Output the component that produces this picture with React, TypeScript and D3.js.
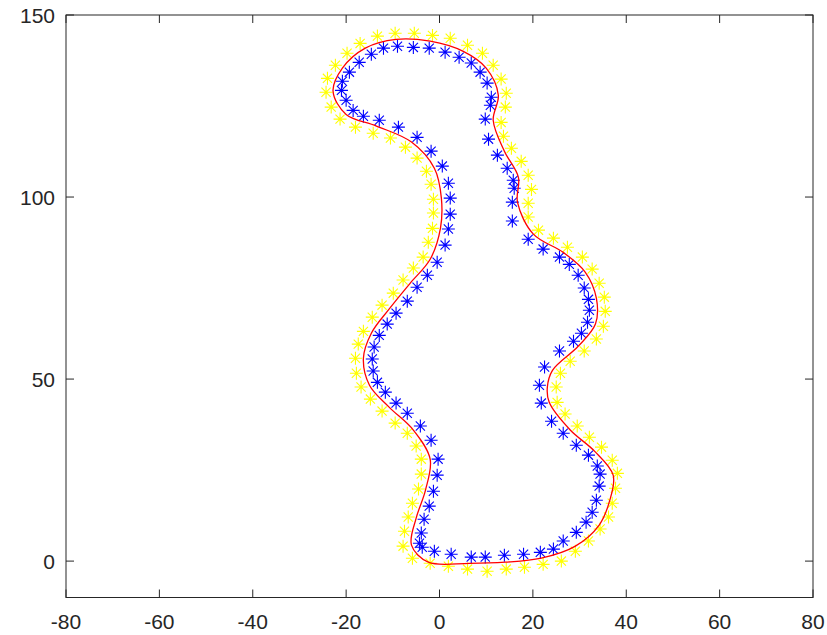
import React from 'react';
import * as d3 from 'd3';

// inner offset points (blue *)
const innerX = [
  -21.0, -20.8, -19.3, -17.2, -14.6, -12.0, -9.0, -5.6, -2.2, 1.2, 4.2, 6.8, 8.7, 10.2, 11.1, 10.9,
  9.8, 10.5, 12.4, 14.5, 15.8, 16.0, 15.6, 15.6, 19.0, 22.2, 25.7, 27.8, 29.7, 31.0, 31.9, 32.1,
  31.7, 30.4, 28.7, 25.7, 22.5, 21.4, 21.8, 24.0, 26.5, 29.3, 31.9, 33.8, 34.4, 34.2, 33.6, 32.7,
  31.4, 29.3, 26.5, 24.4, 21.6, 18.0, 13.9, 9.8, 6.8, 2.5, -1.1, -3.7, -4.3, -3.9, -3.3, -2.2,
  -1.3, -0.5, -0.3, -1.8, -4.1, -6.9, -9.3, -11.6, -13.3, -14.2, -14.4, -14.0, -12.9, -11.2, -9.3, -6.9,
  -4.8, -2.6, -0.5, 1.2, 1.9, 2.3, 2.3, 1.9, 0.6, -1.8, -4.8, -8.8, -12.9, -16.3, -18.5, -20.0,
];
const innerY = [
  129.3, 131.8, 134.3, 137.0, 139.2, 140.9, 141.4, 141.1, 140.9, 139.8, 138.4, 136.8, 134.3, 131.3, 127.4, 125.2,
  121.4, 115.9, 111.5, 107.9, 104.6, 102.4, 98.6, 93.4, 88.4, 85.7, 83.5, 81.5, 78.5, 75.0, 71.9, 68.9,
  65.6, 62.6, 60.4, 57.7, 53.3, 48.3, 43.4, 38.4, 35.1, 31.8, 29.1, 26.1, 23.9, 20.6, 16.7, 13.4,
  10.7, 7.9, 5.5, 3.3, 2.4, 1.9, 1.6, 1.1, 1.1, 1.9, 2.7, 3.8, 4.9, 7.7, 11.5, 15.1,
  19.2, 23.6, 28.0, 33.2, 37.1, 40.6, 43.4, 46.4, 49.1, 52.2, 55.5, 58.8, 62.0, 65.1, 68.1, 71.4,
  75.2, 78.5, 82.1, 86.8, 91.2, 95.3, 99.7, 103.8, 108.5, 112.6, 116.4, 119.2, 121.1, 122.2, 123.8, 126.6,
];

// outer offset points (yellow *)
const outerX = [
  -24.3, -24.0, -22.3, -19.8, -17.0, -13.3, -9.5, -5.4, -1.5, 2.3, 6.0, 9.2, 11.5, 13.2, 14.3, 14.1,
  13.2, 13.7, 15.4, 17.5, 19.0, 19.7, 19.0, 19.0, 21.2, 24.4, 27.4, 30.6, 32.7, 34.2, 35.3, 35.5,
  35.1, 33.6, 31.0, 28.0, 25.9, 25.0, 25.2, 26.9, 29.5, 32.1, 34.7, 37.0, 38.1, 37.7, 37.0, 36.2,
  34.4, 31.9, 29.1, 26.1, 22.2, 18.2, 14.3, 10.2, 6.0, 1.9, -2.0, -5.8, -7.8, -7.5, -6.7, -5.8,
  -4.5, -3.9, -3.9, -5.0, -6.9, -9.5, -12.3, -14.8, -16.8, -17.8, -18.0, -17.4, -16.3, -14.4, -12.3, -9.9,
  -7.8, -5.6, -3.5, -2.4, -1.5, -1.3, -1.3, -1.8, -2.8, -4.8, -7.3, -10.5, -14.2, -18.0, -21.3, -23.2,
];
const outerY = [
  128.8, 132.6, 136.2, 139.5, 142.2, 144.2, 145.0, 145.0, 144.4, 143.6, 141.7, 139.5, 136.2, 132.4, 128.5, 124.7,
  120.5, 116.7, 113.4, 109.8, 106.0, 102.1, 98.3, 94.5, 90.9, 88.7, 86.2, 83.5, 80.2, 76.3, 72.5, 68.6,
  64.5, 61.0, 57.7, 54.9, 51.6, 47.8, 43.6, 40.4, 37.1, 34.0, 31.3, 27.7, 24.1, 20.0, 15.9, 12.1,
  8.8, 5.5, 2.7, 0.0, -0.9, -1.7, -2.2, -2.8, -2.2, -1.4, -0.6, 0.8, 4.1, 8.2, 12.1, 15.9,
  19.8, 23.9, 28.0, 31.6, 35.1, 37.9, 41.2, 44.5, 47.8, 51.6, 55.7, 59.6, 63.1, 67.0, 70.3, 73.6,
  77.2, 80.5, 83.5, 87.6, 91.4, 95.6, 99.4, 103.5, 107.1, 110.7, 113.7, 116.2, 117.5, 119.2, 121.4, 124.7,
];

// centre curve (red)
const curveX = [
  -22.8, -20.8, -15.9, -9.3, -2.0, 5.1, 10.0, 12.6, 11.5, 13.9, 16.9, 16.7, 20.1, 26.5, 31.2, 33.6,
  33.4, 29.7, 24.2, 23.1, 23.5, 28.0, 33.2, 37.2, 36.4, 34.2, 29.1, 21.8, 14.1, 6.4, -2.4, -6.0,
  -5.0, -3.0, -2.0, -5.6, -10.8, -15.0, -16.3, -14.6, -10.8, -6.3, -2.0, 0.2, 0.4, -1.1, -6.0, -13.5, -20.0,
];
const curveY = [
  129.1, 135.4, 140.9, 143.3, 142.8, 140.0, 135.4, 128.0, 121.1, 112.6, 105.4, 98.6, 89.8, 84.8, 79.4, 72.2,
  65.1, 59.0, 52.4, 47.8, 43.6, 36.0, 30.2, 23.6, 16.4, 9.9, 4.1, 0.8, -0.3, -0.6, -0.3, 4.4,
  11.8, 19.5, 28.0, 36.0, 42.3, 48.3, 55.7, 62.6, 69.2, 76.3, 82.9, 91.4, 99.7, 107.9, 115.1, 119.5, 122.7,
];

const xTicks = [-80, -60, -40, -20, 0, 20, 40, 60, 80];
const yTicks = [0, 50, 100, 150];

const W = 827;
const H = 635;
const left = 66;
const right = 813;
const top = 15;
const bottom = 597.5;

const star = (r: number) => {
  const d = r * 0.7071;
  return `M${-r},0L${r},0M0,${-r}L0,${r}M${-d},${-d}L${d},${d}M${-d},${d}L${d},${-d}`;
};

export default function App() {
  const x = d3.scaleLinear([-80, 80], [left, right]);
  const y = d3.scaleLinear([-10, 150], [bottom, top]);

  const inner = innerX.map((v, i) => [v, innerY[i]] as [number, number]);
  const outer = outerX.map((v, i) => [v, outerY[i]] as [number, number]);
  const mid = curveX.map((v, i) => [v, curveY[i]] as [number, number]);

  const line = d3
    .line<[number, number]>()
    .x((d) => x(d[0]))
    .y((d) => y(d[1]))
    .curve(d3.curveCatmullRomClosed.alpha(0.5));

  const axisColor = '#262626';
  const font = '"Liberation Sans", Arial, sans-serif';
  const mk = star(6.5);

  return (
    <svg
      width={W}
      height={H}
      style={{ position: 'absolute', left: 0, top: 0, background: '#fff' }}
    >
      <rect x={0} y={0} width={W} height={H} fill="#fff" />

      <g>
        {outer.map((p, i) => (
          <path
            key={'o' + i}
            d={mk}
            transform={`translate(${x(p[0])},${y(p[1])})`}
            stroke="#ffff00"
            strokeWidth={1.1}
            fill="none"
          />
        ))}
      </g>
      <g>
        {inner.map((p, i) => (
          <path
            key={'i' + i}
            d={mk}
            transform={`translate(${x(p[0])},${y(p[1])})`}
            stroke="#0000ff"
            strokeWidth={1.1}
            fill="none"
          />
        ))}
      </g>
      <path d={line(mid) ?? ''} fill="none" stroke="#ff0000" strokeWidth={1.3} />

      {/* box */}
      <rect
        x={left}
        y={top}
        width={right - left}
        height={bottom - top}
        fill="none"
        stroke={axisColor}
        strokeWidth={1}
      />
      {xTicks.map((t) => (
        <g key={'xt' + t}>
          <line x1={x(t)} x2={x(t)} y1={bottom} y2={bottom - 8} stroke={axisColor} />
          <line x1={x(t)} x2={x(t)} y1={top} y2={top + 8} stroke={axisColor} />
          <text
            x={x(t)}
            y={629}
            textAnchor="middle"
            fontFamily={font}
            fontSize={21}
            fill={axisColor}
          >
            {t}
          </text>
        </g>
      ))}
      {yTicks.map((t) => (
        <g key={'yt' + t}>
          <line x1={left} x2={left + 8} y1={y(t)} y2={y(t)} stroke={axisColor} />
          <line x1={right} x2={right - 8} y1={y(t)} y2={y(t)} stroke={axisColor} />
          <text
            x={55}
            y={y(t)}
            dy="0.36em"
            textAnchor="end"
            fontFamily={font}
            fontSize={21}
            fill={axisColor}
          >
            {t}
          </text>
        </g>
      ))}
    </svg>
  );
}
